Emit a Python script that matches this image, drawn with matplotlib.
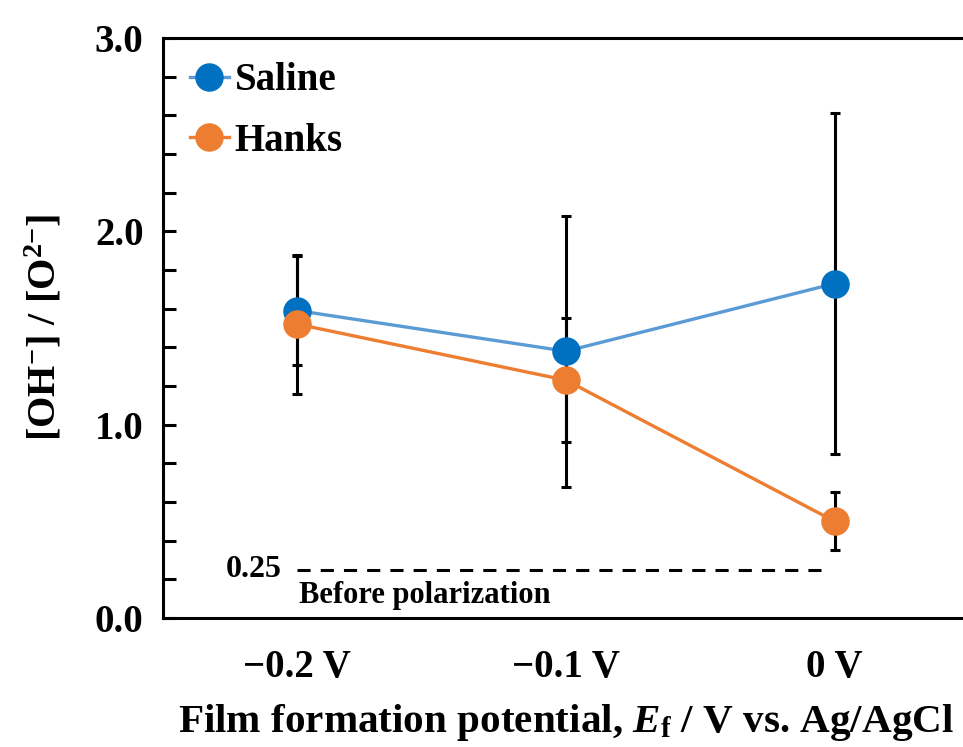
import matplotlib
matplotlib.use("Agg")
import matplotlib.pyplot as plt
from matplotlib.ticker import MultipleLocator

plt.rcParams['font.family'] = ['Liberation Serif', 'DejaVu Serif']
plt.rcParams['font.weight'] = 'bold'
plt.rcParams['axes.labelweight'] = 'bold'
plt.rcParams['mathtext.fontset'] = 'custom'
plt.rcParams['mathtext.rm'] = 'Liberation Serif:bold'
plt.rcParams['mathtext.it'] = 'Liberation Serif:italic:bold'
plt.rcParams['mathtext.bf'] = 'Liberation Serif:bold'

# data
potentials = ['\u22120.2 V', '\u22120.1 V', '0 V']
saline = [1.59, 1.38, 1.73]
saline_err = [0.28, 0.70, 0.88]
hanks = [1.52, 1.23, 0.50]
hanks_err = [0.36, 0.32, 0.15]
before_level = 0.25

x = list(range(len(potentials)))

fig = plt.figure(figsize=(9.63, 7.47), dpi=100)
ax = fig.add_axes([163 / 963, (747 - 618) / 747, 806 / 963, 580 / 747])

blue_dark = '#0070C0'
blue_line = '#5B9BD5'
orange = '#ED7D31'
ms = 19.5

ax.errorbar(x, saline, yerr=saline_err, fmt='none', ecolor='black',
            elinewidth=2.2, capsize=3.5, capthick=2.2, zorder=2)
ax.errorbar(x, hanks, yerr=hanks_err, fmt='none', ecolor='black',
            elinewidth=2.2, capsize=3.5, capthick=2.2, zorder=2)

ax.plot(x, saline, '-', color=blue_line, lw=2.4, zorder=3)
ax.plot(x, saline, 'o', color=blue_dark, ms=ms, zorder=4)
ax.plot(x, hanks, '-', color=orange, lw=2.4, zorder=3)
ax.plot(x, hanks, 'o', color=orange, ms=ms, zorder=4)

h1, = ax.plot([], [], '-o', color=blue_line, mfc=blue_dark, mec=blue_dark, ms=ms, lw=2.4)
h2, = ax.plot([], [], '-o', color=orange, ms=ms, lw=2.4)
leg = ax.legend([h1, h2], ['Saline', 'Hanks'], loc='upper left', frameon=False,
                fontsize=28, handlelength=1.0, handletextpad=0.15,
                labelspacing=0.6, borderaxespad=0.0, bbox_to_anchor=(0.014, 0.985))

# before polarization level
ax.plot([0, 1.97], [before_level, before_level], color='black', lw=2.2,
        ls=(0, (4.3, 3.3)), zorder=1)
ax.text(-0.06, before_level, '0.25', ha='right', va='center', fontsize=23)
ax.text(0.005, before_level - 0.06, 'Before polarization', ha='left', va='top', fontsize=22)

ax.set_xlim(-0.5, 2.5)
ax.set_ylim(0, 3.0)
ax.set_xticks(x)
ax.set_xticklabels(potentials)
ax.yaxis.set_major_locator(MultipleLocator(1.0))
ax.yaxis.set_minor_locator(MultipleLocator(0.2))
ax.yaxis.set_major_formatter(matplotlib.ticker.FormatStrFormatter('%.1f'))

ax.tick_params(axis='y', which='both', direction='in', length=9, width=2.2,
               labelsize=28, pad=14)
ax.tick_params(axis='x', length=0, labelsize=28, pad=22)

for side in ['left', 'top', 'bottom']:
    ax.spines[side].set_linewidth(2.2)
ax.spines['right'].set_visible(False)

ax.set_xlabel('Film formation potential, $\\mathit{E}_\\mathrm{f}$ / V vs. Ag/AgCl',
              fontsize=29.6, labelpad=12)
ax.set_ylabel('[OH$^{\\mathrm{-}}$] / [O$^{2\\mathrm{-}}$]', fontsize=29, labelpad=22)

fig.savefig('out.png', dpi=100)
